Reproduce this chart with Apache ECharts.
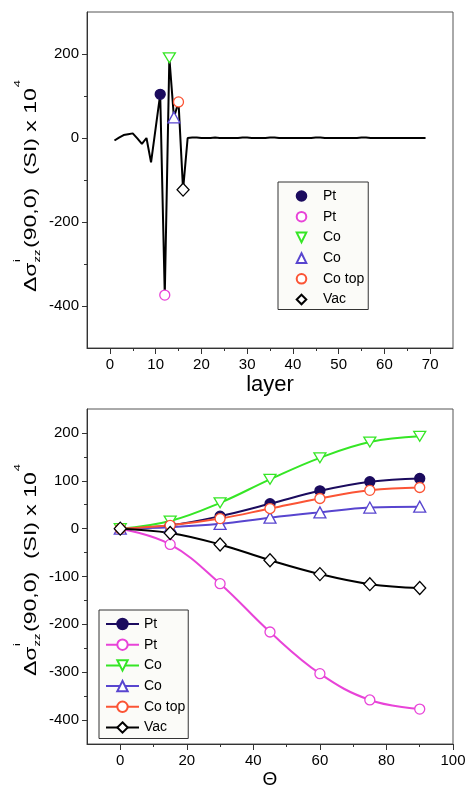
<!DOCTYPE html>
<html><head><meta charset="utf-8">
<script src="https://cdn.jsdelivr.net/npm/echarts@6/dist/echarts.min.js"></script>
<style>html,body{margin:0;padding:0;background:#fff}#c{width:466px;height:788px}</style>
</head><body><div id="c"></div>
<script>
// ---------- data ----------
const layers = [1,2,3,4,5,6,7,8,9,10,11,12,13,14,15,16,17,18,19,20,21,22,23,24,25,26,27,28,29,30,31,32,33,34,35,36,37,38,39,40,41,42,43,44,45,46,47,48,49,50,51,52,53,54,55,56,57,58,59,60,61,62,63,64,65,66,67,68,69];
const layerValues = [-6,1,7,9,11,-1,-14,0,-58,23,104,-374,191,49,86,-123,0,1,1,0,0,0,1,0,0,0,0,0,1,1,0,0,0,0,1,1,0,0,0,0,0,0,0,0,1,1,0,0,0,0,0,0,0,0,1,1,0,0,0,0,0,0,0,0,0,0,0,0,0];
const legendLabels = ['Pt','Pt','Co','Co','Co top','Vac'];
const markerLayers = [11,12,13,14,15,16];
const markerValues = [104,-374,191,49,86,-123];
const thetas = [0,15,30,45,60,75,90];
const ptFilled = [0,7,26,52,79,98,105];
const ptOpen = [0,-33,-115,-216,-303,-358,-377];
const coDown = [0,16,54,103,148,181,193];
const coUp = [0,3,10,23,34,44,46];
const coTop = [0,7,21,42,63,80,86];
const vac = [0,-9,-33,-66,-95,-116,-124];
const topXLabels = [0,10,20,30,40,50,60,70];
const topXMinor = [5,15,25,35,45,55,65];
const topYLabels = [-400,-200,0,200];
const topYMinor = [-300,-100,100];
const botXLabels = [0,20,40,60,80,100];
const botXMinor = [10,30,50,70,90];
const botYLabels = [-400,-300,-200,-100,0,100,200];
const botYMinor = [-350,-250,-150,-50,50,150];
const yTitleParts = {greek:'Δσ', sup:'i', sub:'zz', main:'(90,0)  (SI) x 10', exp:'4'};

// ---------- styles ----------
const FONT = 'Liberation Sans, Arial, Helvetica, sans-serif';
const DOWN_TRI = 'path://M0,0 L10,0 L5,9 Z';
const styles = [
  {color:'#1b0b5e', symbol:'circle', size:10, fill:'#1b0b5e'},
  {color:'#e843d8', symbol:'circle', size:10, fill:'#ffffff'},
  {color:'#35e625', symbol:DOWN_TRI, size:[12,11], fill:'#ffffff'},
  {color:'#5845cf', symbol:'triangle', size:[12,11], fill:'#ffffff'},
  {color:'#fb5435', symbol:'circle', size:10, fill:'#ffffff'},
  {color:'#000000', symbol:'diamond', size:[12,13], fill:'#ffffff'}
];
const botSeriesData = [ptFilled, ptOpen, coDown, coUp, coTop, vac];

function mainX(grid, min, max, labels, ticks, name, gap, nameSize) {
  return {type:'value', gridIndex:grid, min, max, position:'bottom',
    axisLine:{show:true, onZero:false, lineStyle:{color:'#333', width:1}},
    axisTick:{show:true, inside:false, length:6, customValues:ticks, lineStyle:{color:'#333'}},
    axisLabel:{customValues:labels, fontSize:15, color:'#000', fontFamily:FONT, margin:9},
    splitLine:{show:false},
    name, nameLocation:'middle', nameGap:gap, nameTextStyle:{fontSize:nameSize, color:'#000', fontFamily:FONT}};
}
function minorX(grid, min, max, ticks) {
  return {type:'value', gridIndex:grid, min, max, position:'bottom',
    axisLine:{show:false, onZero:false}, axisLabel:{show:false}, splitLine:{show:false},
    axisTick:{show:true, length:3, customValues:ticks, lineStyle:{color:'#333'}}};
}
function mainY(grid, min, max, labels) {
  return {type:'value', gridIndex:grid, min, max, position:'left',
    axisLine:{show:true, onZero:false, lineStyle:{color:'#333', width:1}},
    axisTick:{show:true, inside:false, length:5, customValues:labels, lineStyle:{color:'#333'}},
    axisLabel:{customValues:labels, fontSize:15, color:'#000', fontFamily:FONT, margin:8},
    splitLine:{show:false}};
}
function minorY(grid, min, max, ticks) {
  return {type:'value', gridIndex:grid, min, max, position:'left',
    axisLine:{show:false, onZero:false}, axisLabel:{show:false}, splitLine:{show:false},
    axisTick:{show:true, length:3, customValues:ticks, lineStyle:{color:'#333'}}};
}

// ---------- y-axis title (stacked super/subscript) ----------
const MAINF = 23, SMALLF = 13;
const mctx = document.createElement('canvas').getContext('2d');
function tw(t, f) { mctx.font = f + 'px "Liberation Sans", Arial, sans-serif'; return mctx.measureText(t).width; }
function yTitle(baselineX, centerY) {
  const w1 = tw(yTitleParts.greek, MAINF);
  const wz = tw(yTitleParts.sub, SMALLF);
  const w2 = tw(yTitleParts.main, MAINF);
  const w4 = tw(yTitleParts.exp, SMALLF);
  const x2 = w1 + wz + 1.5;
  const x4 = x2 + w2 + 1;
  const W = x4 + w4;
  const mid = f => -0.35 * f;
  const supB = -22, subB = 5;
  const t = (text, x, baseline, f) => ({type:'text', x, y: baseline + mid(f),
    style:{text, fontSize:f, fontFamily:FONT, fill:'#000', align:'left', verticalAlign:'middle'}});
  return {type:'group', x: baselineX, y: centerY + W/2, rotation: Math.PI/2, scaleY: 0.74,
    children:[
      t(yTitleParts.greek, 0, 0, MAINF),
      t(yTitleParts.sup, w1 + 0.5, supB, SMALLF),
      t(yTitleParts.sub, w1, subB, SMALLF),
      t(yTitleParts.main, x2, 0, MAINF),
      t(yTitleParts.exp, x4, supB, SMALLF)
    ]};
}

const series = [];
series.push({type:'line', name:'layerline', xAxisIndex:0, yAxisIndex:0,
  data: layers.map((l,i)=>[l, layerValues[i]]), showSymbol:false, symbol:'none',
  lineStyle:{color:'#000', width:2}, z:2, silent:true});
styles.forEach((s,i)=>{
  // single-point marker series (line type with invisible line so the legend shows only the symbol)
  series.push({type:'line', name:'t'+i, xAxisIndex:0, yAxisIndex:0,
    data:[[markerLayers[i], markerValues[i]]], symbol:s.symbol, symbolSize:s.size, symbolKeepAspect:true,
    showSymbol:true, lineStyle:{width:0, color:s.color},
    itemStyle:{color:s.fill, borderColor:s.color, borderWidth:1.3, opacity:1}, z:5});
});
styles.forEach((s,i)=>{
  series.push({type:'line', name:'b'+i, xAxisIndex:2, yAxisIndex:2,
    data: thetas.map((t,j)=>[t, botSeriesData[i][j]]), smooth:0.4,
    symbol:s.symbol, symbolSize:s.size, showSymbol:true, symbolKeepAspect:true,
    lineStyle:{color:s.color, width:2},
    itemStyle:{color:s.fill, borderColor:s.color, borderWidth:1.3}, z:5});
});

const option = {
  backgroundColor:'#fff',
  animation:false,
  textStyle:{fontFamily:FONT},
  grid:[
    {left:87, top:12, width:366, height:336, show:true, borderColor:'#555', borderWidth:1, outerBoundsMode:'none', containLabel:false},
    {left:87, top:409, width:366, height:335, show:true, borderColor:'#555', borderWidth:1, outerBoundsMode:'none', containLabel:false}
  ],
  xAxis:[
    mainX(0,-5,75,topXLabels,topXLabels,'layer',26,22),
    minorX(0,-5,75,topXMinor),
    mainX(1,-10,100,botXLabels,botXLabels,'Θ',26,19),
    minorX(1,-10,100,botXMinor)
  ],
  yAxis:[
    mainY(0,-500,300,topYLabels),
    minorY(0,-500,300,topYMinor),
    mainY(1,-450,250,botYLabels),
    minorY(1,-450,250,botYMinor)
  ],
  legend:[
    {orient:'vertical', left:278, top:182, padding:[7,4,3,7], itemWidth:33, itemHeight:12, itemGap:6.7,
     backgroundColor:'#fbfbf8', borderColor:'#333', borderWidth:1,
     textStyle:{fontSize:14, color:'#000', fontFamily:FONT, lineHeight:14},
     data:styles.map((s,i)=>'t'+i), formatter:n=>legendLabels[+n.slice(1)], selectedMode:false},
    {orient:'vertical', left:99, top:610, padding:[7,3,4,6], itemWidth:33, itemHeight:13, itemGap:6.7,
     backgroundColor:'#fbfbf8', borderColor:'#333', borderWidth:1,
     textStyle:{fontSize:14, color:'#000', fontFamily:FONT, lineHeight:14},
     data:styles.map((s,i)=>'b'+i), formatter:n=>legendLabels[+n.slice(1)], selectedMode:false}
  ],
  graphic:[ yTitle(37, 186), yTitle(37, 570) ],
  series
};
const chart = echarts.init(document.getElementById('c'), null, {renderer:'canvas'});
chart.setOption(option);
</script></body></html>
